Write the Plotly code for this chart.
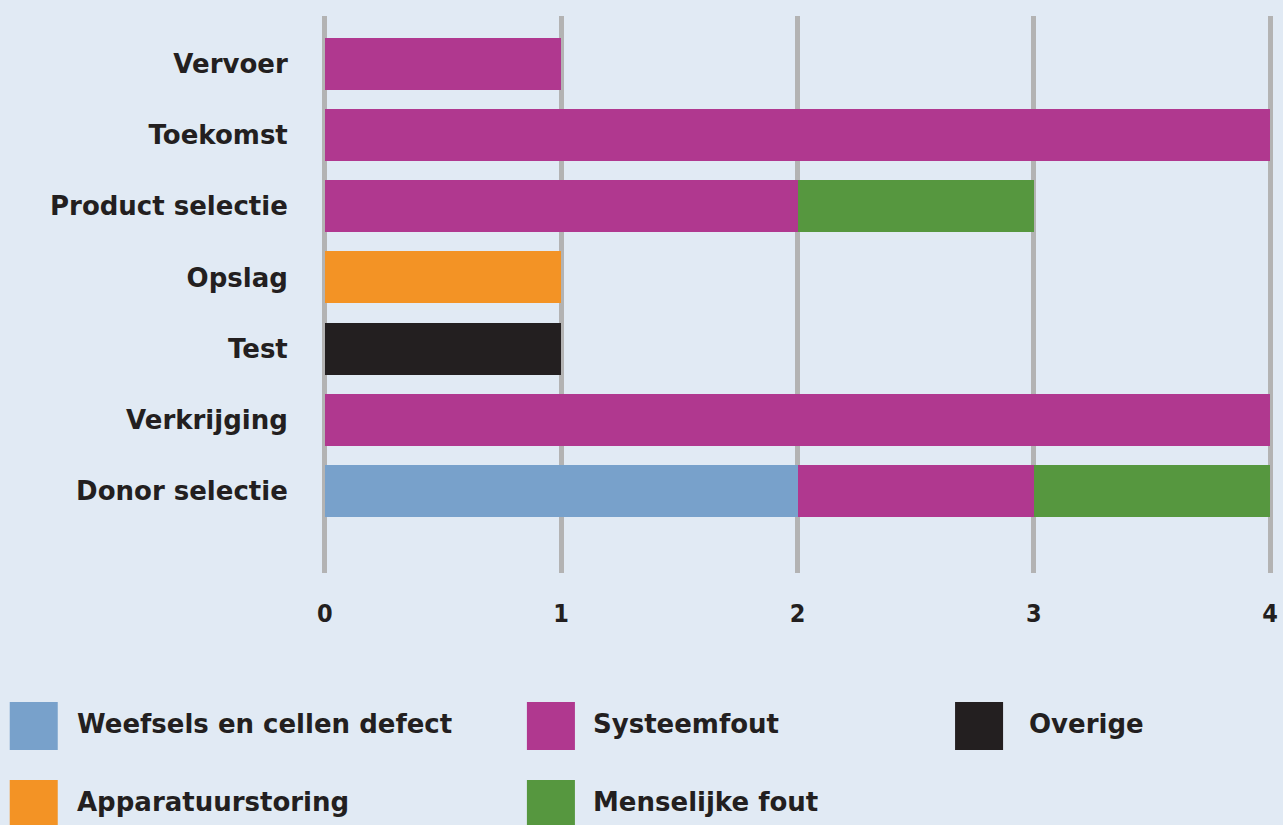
import plotly.graph_objects as go

# ---- data ----
categories = ["Vervoer", "Toekomst", "Product selectie", "Opslag", "Test", "Verkrijging", "Donor selectie"]
series_names = ["Weefsels en cellen defect", "Systeemfout", "Overige", "Apparatuurstoring", "Menselijke fout"]
weefsels = [0, 0, 0, 0, 0, 0, 2]
systeemfout = [1, 4, 2, 0, 0, 4, 1]
overige = [0, 0, 0, 0, 1, 0, 0]
apparatuur = [0, 0, 0, 1, 0, 0, 0]
menselijk = [0, 0, 1, 0, 0, 0, 1]
x_ticks = [0, 1, 2, 3, 4]

series_values = [weefsels, systeemfout, overige, apparatuur, menselijk]
colors = ["#78a1cb", "#b0388f", "#231f20", "#f39325", "#56973f"]

BG = "#e1eaf4"
FONT = "DejaVu Sans"
FONT_C = "DejaVu Sans Condensed"
W, H = 1283, 825
X0PX, X4PX = 325, 1270
PAD = 0.012
UNIT = (X4PX - X0PX) / 4
L = X0PX - PAD * UNIT
R = X4PX + PAD * UNIT
T, B = 16, 573

fig = go.Figure()
for name, vals, col in zip(series_names, series_values, colors):
    fig.add_trace(go.Bar(
        y=categories, x=vals, name=name, orientation="h",
        marker=dict(color=col, line=dict(width=0)), width=0.73,
        showlegend=False,
    ))

fig.update_layout(
    barmode="stack",
    width=W, height=H,
    margin=dict(l=L, r=W - R, t=T, b=H - B, pad=0),
    paper_bgcolor=BG, plot_bgcolor=BG,
    font=dict(family=FONT, size=24, color="#231f20"),
    xaxis=dict(
        range=[-PAD, 4 + PAD], tickvals=x_ticks, showgrid=True, gridcolor="#b3b3b3", gridwidth=5,
        zeroline=False, showline=False, ticks="outside", ticklen=18, tickcolor=BG,
        automargin=False,
        tickfont=dict(family=FONT_C, size=25, color="#231f20", weight="bold"),
    ),
    yaxis=dict(
        categoryorder="array", categoryarray=categories[::-1],
        range=[-1.15, 6.67], showgrid=False, zeroline=False, showline=False,
        ticks="outside", ticklen=28, tickcolor=BG, automargin=False,
        tickfont=dict(family=FONT, size=26, color="#231f20", weight="bold"),
    ),
)

# custom legend (pixel layout converted to paper coords)
def px_x(p):
    return (p - L) / (R - L)

def px_y(p):
    return (B - p) / (B - T)

legend_swatch = [(10, 702), (527, 702), (955, 702), (10, 780), (527, 780)]
legend_text_x = [75, 591, 1027, 75, 591]
for (sx, sy), tx, name, col in zip(legend_swatch, legend_text_x, series_names, colors):
    fig.add_shape(type="rect", xref="paper", yref="paper",
                  x0=px_x(sx), x1=px_x(sx + 48), y0=px_y(sy), y1=px_y(sy + 48),
                  fillcolor=col, line=dict(width=0), layer="above")
    fig.add_annotation(xref="paper", yref="paper", x=px_x(tx), y=px_y(sy + 22),
                       text=name, showarrow=False, xanchor="left", yanchor="middle",
                       font=dict(family=FONT, size=26, color="#231f20", weight="bold"))

fig.write_html("out.html")
